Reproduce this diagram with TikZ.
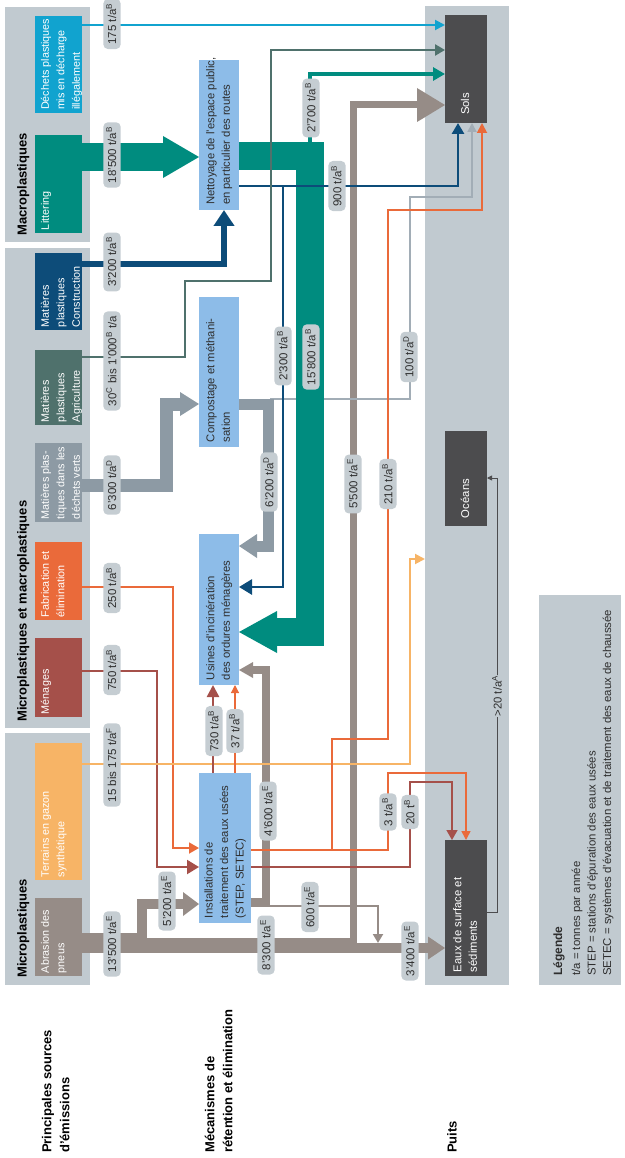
\documentclass[tikz,border=0pt]{standalone}
\usepackage{fontspec}
\setmainfont{Liberation Sans}
\usepackage{graphicx}
\usetikzlibrary{arrows.meta}
\definecolor{panelc}{HTML}{C1CAD0}
\definecolor{pillc}{HTML}{C5CDD2}
\definecolor{procc}{HTML}{8DBCE8}
\definecolor{sinkc}{HTML}{4C4C4E}
\definecolor{cyanc}{HTML}{11A3CF}
\definecolor{tealc}{HTML}{008C7F}
\definecolor{navyc}{HTML}{0D4C79}
\definecolor{slatec}{HTML}{4F716C}
\definecolor{grayc}{HTML}{8D9AA4}
\definecolor{lgrayc}{HTML}{A2ADB6}
\definecolor{orangec}{HTML}{EA6A3A}
\definecolor{redc}{HTML}{A5504A}
\definecolor{lorangec}{HTML}{F7B466}
\definecolor{taupec}{HTML}{968C87}
\definecolor{textc}{HTML}{2E2E2E}
\newcommand{\rtxt}[4]{\rotatebox{90}{\parbox[c][#1][#2]{#3}{\makebox[#3][l]{\begin{tabular}[t]{@{}l@{}}#4\end{tabular}}}}}
\newcommand{\ps}{\rule[-1.4pt]{0pt}{10.8pt}}
\newcommand{\su}[1]{\textsuperscript{#1}}
\tikzset{
  panelbox/.style={fill=panelc, inner sep=0pt, outer sep=0pt, draw=none},
  srcbox/.style={inner sep=0pt, outer sep=0pt, text=white, font=\fontsize{10.8}{15.5}\selectfont},
  procbox/.style={inner sep=0pt, outer sep=0pt, fill=procc, text=textc, font=\fontsize{11.3}{15.5}\selectfont},
  sinkbox/.style={inner sep=0pt, outer sep=0pt, fill=sinkc, text=white, font=\fontsize{11.3}{15.5}\selectfont},
  pill/.style={fill=pillc, rounded corners=4.5pt, inner xsep=3pt, inner ysep=4.5pt, text=textc, font=\fontsize{11.5}{13}\selectfont},
  hdr/.style={inner sep=0pt, anchor=south west, text=black, font=\bfseries\fontsize{13}{18}\selectfont},
  band/.style={line join=miter, line cap=butt},
  thinl/.style={line join=miter}
}
\begin{document}
\begin{tikzpicture}[x=1pt,y=-1pt]
\useasboundingbox (0,0) rectangle (624,1158);

% ---------- panels ----------
\node[panelbox, minimum width=85pt, minimum height=235pt] (pan1) at (47.5,124.5) {};
\node[panelbox, minimum width=85pt, minimum height=480pt] (pan2) at (47.5,488) {};
\node[panelbox, minimum width=85pt, minimum height=252pt] (pan3) at (47.5,859) {};
\node[panelbox, minimum width=84pt, minimum height=979pt] (puits) at (467,495.5) {};
\node[panelbox, minimum width=82pt, minimum height=390pt] (legpan) at (580,790) {};

\node[hdr] (h1) at (17,236) {\rotatebox{90}{Macroplastiques}};
\node[hdr] (h2) at (17,722) {\rotatebox{90}{Microplastiques et macroplastiques}};
\node[hdr] (h3) at (17,978) {\rotatebox{90}{Microplastiques}};

% ---------- source boxes ----------
\node[srcbox, fill=cyanc, minimum width=47pt, minimum height=97pt] (illegal) at (58.5,64.5) {\rtxt{41pt}{t}{91pt}{Déchets plastiques\\mis en décharge\\illégalement}};
\node[srcbox, fill=tealc, minimum width=47pt, minimum height=98pt] (litter) at (58.5,184) {\rtxt{41pt}{t}{92pt}{Littering}};
\node[srcbox, fill=navyc, minimum width=47pt, minimum height=77pt] (constr) at (58.5,291.5) {\rtxt{41pt}{t}{71pt}{Matières\\plastiques\\Construction}};
\node[srcbox, fill=slatec, minimum width=47pt, minimum height=75pt] (agri) at (58.5,387.5) {\rtxt{41pt}{t}{69pt}{Matières\\plastiques\\Agriculture}};
\node[srcbox, fill=grayc, minimum width=47pt, minimum height=79pt] (verts) at (58.5,482.5) {\rtxt{41pt}{t}{73pt}{Matières plas-\\tiques dans les\\déchets verts}};
\node[srcbox, fill=orangec, minimum width=47pt, minimum height=78pt] (fab) at (58.5,581) {\rtxt{41pt}{t}{72pt}{Fabrication et\\élimination}};
\node[srcbox, fill=redc, minimum width=47pt, minimum height=79pt] (menag) at (58.5,677.5) {\rtxt{41pt}{t}{73pt}{Ménages}};
\node[srcbox, fill=lorangec, minimum width=47pt, minimum height=137pt] (gazon) at (58.5,811.5) {\rtxt{41pt}{t}{131pt}{Terrains en gazon\\synthétique}};
\node[srcbox, fill=taupec, minimum width=47pt, minimum height=78pt] (pneus) at (58.5,937) {\rtxt{41pt}{t}{72pt}{Abrasion des\\pneus}};

% ---------- process and sink boxes ----------
\node[procbox, minimum width=40pt, minimum height=150pt] (nett) at (219,135) {\rtxt{40pt}{c}{140pt}{Nettoyage de l’espace public,\\en particulier des routes}};
\node[procbox, minimum width=40pt, minimum height=150pt] (comp) at (219,372) {\rtxt{40pt}{c}{140pt}{Compostage et méthani-\\sation}};
\node[procbox, minimum width=40pt, minimum height=151pt] (usines) at (219,609.5) {\rtxt{40pt}{c}{141pt}{Usines d’incinération\\des ordures ménagères}};
\node[procbox, minimum width=52pt, minimum height=150pt] (step) at (225,848) {\rtxt{52pt}{c}{140pt}{Installations de\\traitement des eaux usées\\(STEP, SETEC)}};
\node[sinkbox, minimum width=42pt, minimum height=108pt] (sols) at (466,69) {\rtxt{42pt}{c}{92pt}{Sols}};
\node[sinkbox, minimum width=42pt, minimum height=95pt] (oceans) at (466,478.5) {\rtxt{42pt}{c}{79pt}{Océans}};
\node[sinkbox, minimum width=42pt, minimum height=136pt] (eaux) at (466,908) {\rtxt{42pt}{c}{128pt}{Eaux de surface et\\sédiments}};

% ---------- taupe flows (tyre abrasion) ----------
\draw[band, taupec, line width=20pt] (pneus.east |- 0,943) -- (147,943);
\draw[band, taupec, line width=10pt] (142,941) -- (142,904) -- (183,904);
\fill[taupec] (183,892) -- (step.west |- 0,904) -- (183,916) -- cycle;
\draw[band, taupec, line width=15pt] (140,945.5) -- (357,945.5);
\draw[band, taupec, line width=7pt] (353.5,946) -- (353.5,105) -- (417,105);
\fill[taupec] (417,88) -- (sols.west |- 0,105) -- (417,122) -- cycle;
\draw[band, taupec, line width=10pt] (350,948) -- (428,948);
\fill[taupec] (428,936.5) -- (eaux.west |- 0,948) -- (428,959.5) -- cycle;
\draw[band, taupec, line width=8pt] (step.east |- 0,902) -- (266,902) -- (266,670) -- (253,670);
\fill[taupec] (253,662) -- (usines.east |- 0,670) -- (253,678) -- cycle;
\draw[thinl, taupec, line width=2pt, -{Triangle[width=10pt,length=9pt]}] (step.east |- 0,906) -- (378,906) -- (378,943);

% ---------- grey flows (green waste) ----------
\draw[thinl, lgrayc, line width=1.8pt, -{Triangle[width=9pt,length=9pt]}] (270,399) -- (410,399) -- (410,197) -- (472,197) -- (sols.south -| 472,0);
\draw[band, grayc, line width=13pt] (verts.east |- 0,485) -- (166,485) -- (166,404) -- (180,404);
\fill[grayc] (180,392) -- (comp.west |- 0,404) -- (180,416) -- cycle;
\draw[band, grayc, line width=11pt] (comp.east |- 0,404) -- (268,404) -- (268,546) -- (257,546);
\fill[grayc] (257,534) -- (usines.east |- 0,546) -- (257,558) -- cycle;

% ---------- teal flows (littering) ----------
\draw[band, tealc, line width=28pt] (litter.east |- 0,157) -- (163,157);
\fill[tealc] (163,136) -- (nett.west |- 0,157) -- (163,178) -- cycle;
\draw[band, tealc, line width=28pt] (nett.east |- 0,156) -- (310,156) -- (310,632) -- (277,632);
\fill[tealc] (277,611) -- (usines.east |- 0,632) -- (277,653) -- cycle;
\draw[thinl, tealc, line width=4pt, -{Triangle[width=13pt,length=12pt]}] (310,143) -- (310,74) -- (sols.west |- 0,74);

% ---------- orange / red / light orange ----------
\draw[thinl, orangec, line width=1.8pt, -{Triangle[width=11pt,length=10pt]}] (fab.east |- 0,587) -- (173,587) -- (173,848) -- (step.west |- 0,848);
\draw[thinl, redc, line width=2.2pt, -{Triangle[width=14pt,length=12pt]}] (menag.east |- 0,671) -- (157,671) -- (157,867) -- (step.west |- 0,867);
\draw[thinl, lorangec, line width=2pt, -{Triangle[width=10pt,length=10pt]}] (gazon.east |- 0,764) -- (410,764) -- (410,559) -- (puits.west |- 0,559);
\draw[thinl, redc, line width=2.5pt, -{Triangle[width=12pt,length=12pt]}] (step.north -| 213,0) -- (usines.south -| 213,0);
\draw[thinl, orangec, line width=1.2pt, -{Triangle[width=8pt,length=8pt]}] (step.north -| 235,0) -- (usines.south -| 235,0);
\draw[thinl, orangec, line width=1.5pt, -{Triangle[width=9pt,length=9pt]}] (step.east |- 0,850) -- (388,850) -- (388,773) -- (466,773) -- (eaux.north -| 466,0);
\draw[thinl, orangec, line width=1.8pt, -{Triangle[width=10pt,length=10pt]}] (step.east |- 0,850) -- (332,850) -- (332,739) -- (388,739) -- (388,210) -- (482,210) -- (sols.south -| 482,0);
\draw[thinl, redc, line width=1.5pt, -{Triangle[width=11pt,length=10pt]}] (step.east |- 0,867) -- (410,867) -- (410,782) -- (452,782) -- (eaux.north -| 452,0);

% ---------- navy ----------
\draw[thinl, navyc, line width=6pt, -{Triangle[width=20pt,length=16pt]}] (constr.east |- 0,264) -- (224,264) -- (nett.south -| 224,0);
\draw[thinl, navyc, line width=2.8pt, -{Triangle[width=12pt,length=11pt]}] (nett.east |- 0,186) -- (458,186) -- (sols.south -| 458,0);
\draw[thinl, navyc, line width=2.8pt, -{Triangle[width=15pt,length=13pt]}] (283,186) -- (283,587) -- (usines.east |- 0,587);

% ---------- slate (agriculture) and cyan ----------
\draw[thinl, slatec, line width=2.5pt, -{Triangle[width=11pt,length=10pt]}] (agri.east |- 0,357) -- (185,357) -- (185,281) -- (271,281) -- (271,50) -- (sols.west |- 0,50);
\draw[thinl, cyanc, line width=2pt, -{Triangle[width=10pt,length=10pt]}] (illegal.east |- 0,25) -- (sols.west |- 0,25);

% ---------- sediments to oceans ----------
\node[inner sep=0pt, text=textc, font=\fontsize{11.3}{13}\selectfont] (l20) at (497,696) {\rotatebox{90}{>20 t/a\su{A}}};
\draw[thinl, sinkc, line width=0.8pt] (eaux.east |- 0,912) -- (497,912) -- (l20.south);
\draw[thinl, sinkc, line width=0.8pt, -{Triangle[width=5pt,length=5pt]}] (l20.north) -- (497,478) -- (oceans.east |- 0,478);

% ---------- quantity labels ----------
\node[pill] (p175) at (112,24) {\rotatebox{90}{\ps 175 t/a\su{B}}};
\node[pill] (p18500) at (112,155) {\rotatebox{90}{\ps 18’500 t/a\su{B}}};
\node[pill] (p3200) at (112,262) {\rotatebox{90}{\ps 3’200 t/a\su{B}}};
\node[pill] (p30) at (112,361) {\rotatebox{90}{\ps 30\su{C} bis 1’000\su{B} t/a}};
\node[pill] (p6300) at (112,485) {\rotatebox{90}{\ps 6’300 t/a\su{D}}};
\node[pill] (p250) at (112,588) {\rotatebox{90}{\ps 250 t/a\su{B}}};
\node[pill] (p750) at (112,670) {\rotatebox{90}{\ps 750 t/a\su{B}}};
\node[pill] (p15) at (112,765) {\rotatebox{90}{\ps 15 bis 175 t/a\su{F}}};
\node[pill] (p13500) at (112,944) {\rotatebox{90}{\ps 13’500 t/a\su{E}}};
\node[pill] (p5200) at (167,901) {\rotatebox{90}{\ps 5’200 t/a\su{E}}};
\node[pill] (p730) at (214,731) {\rotatebox{90}{\ps 730 t/a\su{B}}};
\node[pill] (p37) at (235,731) {\rotatebox{90}{\ps 37 t/a\su{B}}};
\node[pill] (p4600) at (268,811) {\rotatebox{90}{\ps 4’600 t/a\su{E}}};
\node[pill] (p8300) at (266,945) {\rotatebox{90}{\ps 8’300 t/a\su{E}}};
\node[pill] (p600) at (310,907) {\rotatebox{90}{\ps 600 t/a\su{E}}};
\node[pill] (p6200) at (269,482) {\rotatebox{90}{\ps 6’200 t/a\su{D}}};
\node[pill] (p2300) at (283,356) {\rotatebox{90}{\ps 2’300 t/a\su{B}}};
\node[pill] (p15800) at (311,357) {\rotatebox{90}{\ps 15’800 t/a\su{B}}};
\node[pill] (p2700) at (311,108) {\rotatebox{90}{\ps 2’700 t/a\su{B}}};
\node[pill] (p900) at (337,186) {\rotatebox{90}{\ps 900 t/a\su{B}}};
\node[pill] (p5500) at (353,484) {\rotatebox{90}{\ps 5’500 t/a\su{E}}};
\node[pill] (p210) at (388,484) {\rotatebox{90}{\ps 210 t/a\su{B}}};
\node[pill] (p100) at (409,357) {\rotatebox{90}{\ps 100 t/a\su{D}}};
\node[pill] (p3) at (388,812) {\rotatebox{90}{\ps 3 t/a\su{B}}};
\node[pill] (p20) at (410,812) {\rotatebox{90}{\ps 20 t\su{B}}};
\node[pill] (p3400) at (410,951) {\rotatebox{90}{\ps 3’400 t/a\su{E}}};

% ---------- row labels and legend ----------
\node[hdr] (lab1) at (38.5,1153) {\rotatebox{90}{\begin{tabular}{@{}l@{}}Principales sources\\d’émissions\end{tabular}}};
\node[hdr] (lab2) at (201.5,1153) {\rotatebox{90}{\begin{tabular}{@{}l@{}}Mécanismes de\\rétention et élimination\end{tabular}}};
\node[hdr] (lab3) at (447,1153) {\rotatebox{90}{Puits}};
\node[inner sep=0pt, anchor=south west, text=textc, font=\fontsize{11.4}{15.5}\selectfont] (legend) at (551,976) {\rotatebox{90}{\begin{tabular}{@{}l@{}}{\bfseries\fontsize{12}{15.5}\selectfont Légende}\\[2.5pt]t/a = tonnes par année\\STEP = stations d’épuration des eaux usées\\SETEC = systèmes d’évacuation et de traitement des eaux de chaussée\end{tabular}}};
\end{tikzpicture}
\end{document}
